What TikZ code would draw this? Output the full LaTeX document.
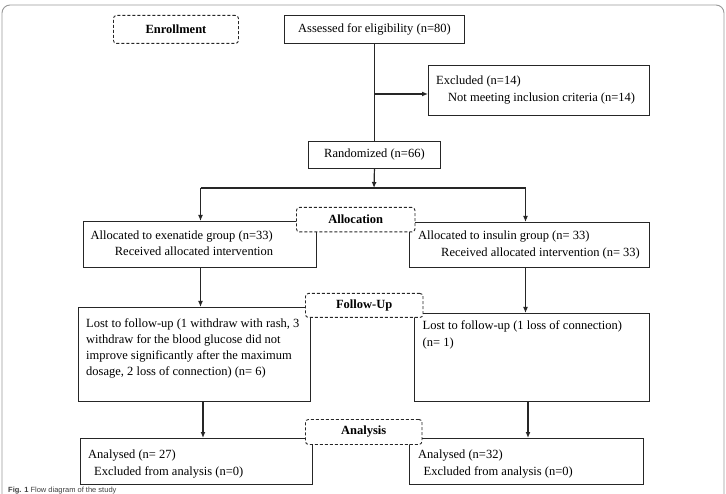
\documentclass[tikz,border=0pt]{standalone}
\usepackage{fontspec}
\setmainfont{Liberation Serif}
\newfontfamily\capfont{Liberation Sans}
\usetikzlibrary{arrows.meta}
\begin{document}
\begin{tikzpicture}[x=1pt,y=-1pt,
 every node/.style={font=\fontsize{12.5}{15}\selectfont},
 box/.style={draw=black!85, line width=0.9pt, rectangle, inner sep=0pt, anchor=north west},
 lab/.style={draw=black!85, line width=0.9pt, dash pattern=on 3pt off 2pt, rounded corners=3pt, fill=white, inner sep=0pt, anchor=north west, font=\fontsize{12.5}{15}\selectfont\bfseries},
 txt/.style={inner sep=0pt, anchor=west, text height=8.5pt, text depth=2.5pt},
 conn/.style={line width=1.2pt, draw=black!85},
 arr/.style={conn, -{Latex[length=6pt,width=5pt]}}
]
\useasboundingbox (0,0) rectangle (726,494);
\clip (0,0) rectangle (726,494);
\fill[white] (0,0) rectangle (726,494);
\draw[black!40, line width=0.9pt, rounded corners=8pt] (2,520) -- (2,5) -- (724,5) -- (724,520);

% boxes
\node[box, minimum width=180pt, minimum height=28pt] (assess) at (284,15) {Assessed for eligibility (n=80)};
\node[box, minimum width=221pt, minimum height=50pt] (excl) at (428,65) {};
\node[box, minimum width=132pt, minimum height=27pt] (rand) at (308,141) {Randomized (n=66)};
\node[box, minimum width=233pt, minimum height=46.5pt] (alloL) at (82.6,221) {};
\node[box, minimum width=240pt, minimum height=45pt] (alloR) at (408.5,222) {};
\node[box, minimum width=232.5pt, minimum height=94pt] (lostL) at (77.5,307) {};
\node[box, minimum width=234.5pt, minimum height=88pt] (lostR) at (414,313) {};
\node[box, minimum width=232pt, minimum height=46pt] (anL) at (80,438) {};
\node[box, minimum width=233.5pt, minimum height=46pt] (anR) at (409,438) {};

% texts
\node[txt] (t1) at (436,82) {Excluded (n=14)};
\node[txt] (t2) at (448,99) {Not meeting inclusion criteria (n=14)};
\node[txt] (t3) at (90.5,237) {Allocated to exenatide group (n=33)};
\node[txt] (t4) at (114.7,253) {Received allocated intervention};
\node[txt] (t5) at (418,237) {Allocated to insulin group (n= 33)};
\node[txt] (t6) at (441,254) {Received allocated intervention (n= 33)};
\node[txt] (t7) at (86,325) {Lost to follow-up (1 withdraw with rash, 3};
\node[txt] (t8) at (86,341) {withdraw for the blood glucose did not};
\node[txt] (t9) at (86,357) {improve significantly after the maximum};
\node[txt] (t10) at (86,373) {dosage, 2 loss of connection) (n= 6)};
\node[txt] (t11) at (422.5,327) {Lost to follow-up (1 loss of connection)};
\node[txt] (t12) at (422.5,344) {(n= 1)};
\node[txt] (t13) at (88,455) {Analysed (n= 27)};
\node[txt] (t14) at (94,472) {Excluded from analysis (n=0)};
\node[txt] (t15) at (418,455) {Analysed (n=32)};
\node[txt] (t16) at (423.5,472) {Excluded from analysis (n=0)};

% connectors
\coordinate (exj) at (374,94);
\coordinate (br) at (374,188);
\coordinate (brL) at (200.5,188);
\coordinate (brR) at (525.5,188);
\coordinate (aL) at (203,401);
\coordinate (aR) at (528,401);
\draw[conn] (assess.south) -- (rand.north);
\draw[arr] (exj) -- (excl.west |- exj);
\draw[arr] (rand.south) -- (br);
\draw[conn] (brL) -- (brR);
\draw[arr] (brL) -- (alloL.north -| brL);
\draw[arr] (brR) -- (alloR.north -| brR);
\draw[arr] (alloL.south -| brL) -- (lostL.north -| brL);
\draw[arr] (alloR.south -| brR) -- (lostR.north -| brR);
\draw[arr] (lostL.south -| aL) -- (anL.north -| aL);
\draw[arr] (lostR.south -| aR) -- (anR.north -| aR);

% dashed stage labels
\node[lab, minimum width=125pt, minimum height=28pt] (enrol) at (113,15) {Enrollment};
\node[lab, minimum width=118.5pt, minimum height=24.5pt] (alloc) at (296,207) {Allocation};
\node[lab, minimum width=117.5pt, minimum height=24pt] (follow) at (305,293) {Follow-Up};
\node[lab, minimum width=116.5pt, minimum height=25pt] (anal) at (305,419) {Analysis};

% caption at the lower edge
\node[inner sep=0pt, anchor=base west, text=black!75, font=\capfont\fontsize{7.5}{9}\selectfont] (cap) at (8,492) {\textbf{Fig. 1} Flow diagram of the study};
\end{tikzpicture}
\end{document}
